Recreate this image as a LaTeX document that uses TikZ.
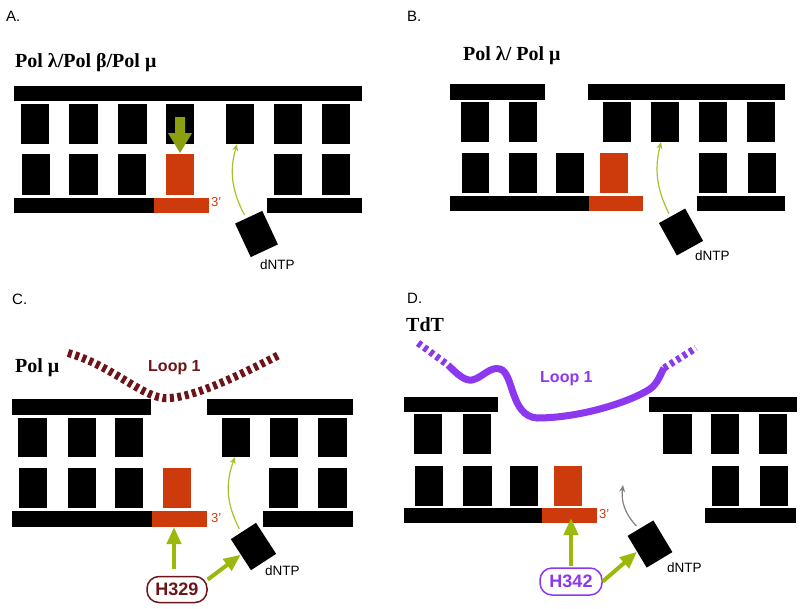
\documentclass[tikz,border=0pt]{standalone}
\usepackage{fontspec}
\setmainfont{Liberation Serif}
\setsansfont{Liberation Sans}
\usetikzlibrary{arrows.meta}
\definecolor{dnared}{RGB}{205,58,12}
\definecolor{arrgreen}{RGB}{155,185,10}
\definecolor{thingreen}{RGB}{165,195,40}
\definecolor{blockgreen}{RGB}{140,160,15}
\definecolor{loopred}{RGB}{110,20,25}
\definecolor{looppurple}{RGB}{140,55,240}
\newcommand\bx[6]{\pgfmathsetmacro\myw{#4-#2}\pgfmathsetmacro\myh{#5-#3}%
  \node[#6,minimum width=\myw pt,minimum height=\myh pt] (#1) at ({(#2+#4)/2},{(#3+#5)/2}) {};}
\tikzset{
  blk/.style={fill=black,inner sep=0pt,outer sep=0pt,draw=none},
  redb/.style={fill=dnared,inner sep=0pt,outer sep=0pt,draw=none},
  panel/.style={font=\sffamily\fontsize{15}{15}\selectfont,anchor=base west,inner sep=0pt},
  ttl/.style={font=\bfseries\fontsize{20}{20}\selectfont,anchor=base west,inner sep=0pt},
  dntp/.style={fill=black,minimum width=30pt,minimum height=37pt,inner sep=0pt},
  dlab/.style={font=\sffamily\fontsize{13.5}{13.5}\selectfont,anchor=base west,inner sep=0pt},
  three/.style={font=\sffamily\fontsize{13}{13}\selectfont,text=dnared,anchor=base west,inner sep=0pt},
  thinarr/.style={draw=thingreen,line width=1.2pt,-{Stealth[length=7pt,width=6pt]}},
  greyarr/.style={draw=gray,line width=1.2pt,-{Stealth[length=7pt,width=6pt]}},
  thickarr/.style={draw=arrgreen,line width=4pt,-{Triangle[length=17pt,width=14pt]}},
  looplab/.style={font=\sffamily\bfseries\fontsize{16}{16}\selectfont,anchor=base west,inner sep=0pt},
  resbox/.style={draw,line width=1.5pt,rounded corners=12pt,fill=white,minimum width=60pt,minimum height=26pt,inner sep=0pt,font=\sffamily\bfseries\fontsize{18}{18}\selectfont}
}
\begin{document}
\begin{tikzpicture}[x=1pt,y=-1pt]
\useasboundingbox (0,0) rectangle (800,608);
% ---------------- Panel A ----------------
\node[panel] (labA) at (6,21) {A.};
\node[ttl] (tA) at (15,67) {Pol λ/Pol β/Pol μ};
\bx{topA}{14}{86}{362}{101}{blk}
\bx{uA1}{21}{104}{49}{144}{blk}
\bx{uA2}{69}{104}{98}{144}{blk}
\bx{uA3}{118}{104}{147}{144}{blk}
\bx{uA4}{166}{104}{194}{144}{blk}
\bx{uA5}{226}{104}{254}{144}{blk}
\bx{uA6}{274}{104}{302}{144}{blk}
\bx{uA7}{322}{104}{350}{144}{blk}
\bx{lA1}{22}{154}{50}{195}{blk}
\bx{lA2}{69}{154}{98}{195}{blk}
\bx{lA3}{118}{154}{146}{195}{blk}
\bx{lA4}{166}{154}{194}{195}{redb}
\bx{lA6}{274}{154}{302}{195}{blk}
\bx{lA7}{322}{154}{350}{195}{blk}
\bx{bA1}{14}{198}{154}{213}{blk}
\bx{bA2}{154}{198}{209}{213}{redb}
\bx{bA3}{267}{198}{362}{213}{blk}
\node[three] (tpA) at (211,206) {3\symbol{39}};
\fill[blockgreen] (175,117) -- (185,117) -- (185,133) -- (192,133) -- (180,153) -- (168,133) -- (175,133) -- cycle;
\node[dntp,rotate=25] (dA) at (256.5,234) {};
\node[dlab] (dlA) at (260,269) {dNTP};
\draw[thinarr] ([xshift=-4pt,yshift=2pt]dA.north) to[bend left=22] ([xshift=-3pt]uA5.south);
% ---------------- Panel B ----------------
\node[panel] (labB) at (407,21) {B.};
\node[ttl] (tB) at (463,60) {Pol λ/ Pol μ};
\bx{topB1}{450}{84}{545}{100}{blk}
\bx{topB2}{588}{84}{785}{100}{blk}
\bx{uB1}{461}{102}{489}{142}{blk}
\bx{uB2}{509}{102}{537}{142}{blk}
\bx{uB3}{603}{102}{631}{142}{blk}
\bx{uB4}{651}{102}{679}{142}{blk}
\bx{uB5}{699}{102}{727}{142}{blk}
\bx{uB6}{747}{102}{775}{142}{blk}
\bx{lB1}{462}{153}{489}{193}{blk}
\bx{lB2}{509}{153}{537}{193}{blk}
\bx{lB3}{556}{153}{584}{193}{blk}
\bx{lB4}{600}{153}{628}{193}{redb}
\bx{lB5}{699}{153}{727}{193}{blk}
\bx{lB6}{748}{153}{776}{193}{blk}
\bx{bB1}{450}{196}{589}{211}{blk}
\bx{bB2}{589}{196}{643}{211}{redb}
\bx{bB3}{697}{196}{785}{211}{blk}
\node[dntp,rotate=29] (dB) at (681,232) {};
\node[dlab] (dlB) at (695,260) {dNTP};
\draw[thinarr] ([xshift=-3pt,yshift=2pt]dB.north) to[bend left=20] ([xshift=-4pt]uB4.south);
% ---------------- Panel C ----------------
\node[panel] (labC) at (12,304) {C.};
\node[ttl] (tC) at (15,372) {Pol μ};
\draw[loopred,line width=8pt,dash pattern=on 4pt off 3.5pt] (68,353) .. controls (110,365) and (140,395) .. (163,398) .. controls (190,400) and (240,375) .. (279,355);
\node[looplab,text=loopred] (lpC) at (148,371) {Loop 1};
\bx{topC1}{12}{399}{151}{415}{blk}
\bx{topC2}{207}{399}{353}{415}{blk}
\bx{uC1}{18}{418}{47}{457}{blk}
\bx{uC2}{68}{418}{96}{457}{blk}
\bx{uC3}{115}{418}{143}{457}{blk}
\bx{uC4}{222}{418}{250}{457}{blk}
\bx{uC5}{270}{418}{298}{457}{blk}
\bx{uC6}{318}{418}{347}{457}{blk}
\bx{lC1}{19}{468}{47}{508}{blk}
\bx{lC2}{68}{468}{96}{508}{blk}
\bx{lC3}{115}{468}{143}{508}{blk}
\bx{lC4}{163}{468}{191}{508}{redb}
\bx{lC5}{269}{468}{298}{508}{blk}
\bx{lC6}{318}{468}{347}{508}{blk}
\bx{bC1}{12}{511}{152}{527}{blk}
\bx{bC2}{152}{511}{207}{527}{redb}
\bx{bC3}{263}{511}{353}{527}{blk}
\node[three] (tpC) at (211,522) {3\symbol{39}};
\node[dntp,rotate=33] (dC) at (253.5,546.5) {};
\node[dlab] (dlC) at (265,575) {dNTP};
\draw[thinarr] ([xshift=-4pt,yshift=2pt]dC.north) to[bend left=24] ([xshift=-1pt]uC4.south);
\node[resbox,draw=loopred,text=loopred] (hC) at (177,589.5) {H329};
\draw[thickarr] ([xshift=-3pt]hC.north) ++(0,-7) -- ([xshift=-3pt]hC.north |- bC2.south);
\draw[thickarr] (hC.18) -- (dC.west);
% ---------------- Panel D ----------------
\node[panel] (labD) at (407,303) {D.};
\node[ttl] (tD) at (406,331) {TdT};
\draw[looppurple,line width=7pt,dash pattern=on 4pt off 3.5pt] (418,343) -- (448,365);
\draw[looppurple,line width=7pt] (448,365) .. controls (458,375) and (465,381) .. (472,380) .. controls (482,378) and (490,366) .. (500,369) .. controls (514,373) and (510,416) .. (537,418) .. controls (580,418) and (630,402) .. (650,389) .. controls (658,383) and (660,375) .. (664,368);
\draw[looppurple,line width=7pt,dash pattern=on 4pt off 3.5pt] (664,368) -- (696,348);
\node[looplab,text=looppurple] (lpD) at (540,382) {Loop 1};
\bx{topD1}{404}{397}{498}{412}{blk}
\bx{topD2}{649}{397}{797}{412}{blk}
\bx{uD1}{414}{414}{442}{454}{blk}
\bx{uD2}{463}{414}{491}{454}{blk}
\bx{uD3}{663}{414}{692}{454}{blk}
\bx{uD4}{711}{414}{739}{454}{blk}
\bx{uD5}{759}{414}{787}{454}{blk}
\bx{lD1}{415}{466}{443}{506}{blk}
\bx{lD2}{463}{466}{492}{506}{blk}
\bx{lD3}{510}{466}{538}{506}{blk}
\bx{lD4}{554}{466}{582}{506}{redb}
\bx{lD5}{712}{466}{739}{506}{blk}
\bx{lD6}{760}{466}{788}{506}{blk}
\bx{bD1}{404}{508}{542}{523}{blk}
\bx{bD2}{542}{508}{597}{523}{redb}
\bx{bD3}{705}{508}{796}{523}{blk}
\node[three] (tpD) at (599,518) {3\symbol{39}};
\node[dntp,rotate=31] (dD) at (650,544) {};
\node[dlab] (dlD) at (667,572) {dNTP};
\coordinate (gD) at (623,485);
\draw[greyarr] ([xshift=-4pt,yshift=2pt]dD.north) to[bend left=25] (gD);
\node[resbox,draw=looppurple,text=looppurple,minimum width=62pt,minimum height=27pt] (hD) at (571,581.5) {H342};
\draw[thickarr] (hD.north) ++(0,-1) -- ([yshift=5pt]hD.north |- bD2.south);
\draw[thickarr] (hD.east) -- (dD.west);
\end{tikzpicture}
\end{document}
